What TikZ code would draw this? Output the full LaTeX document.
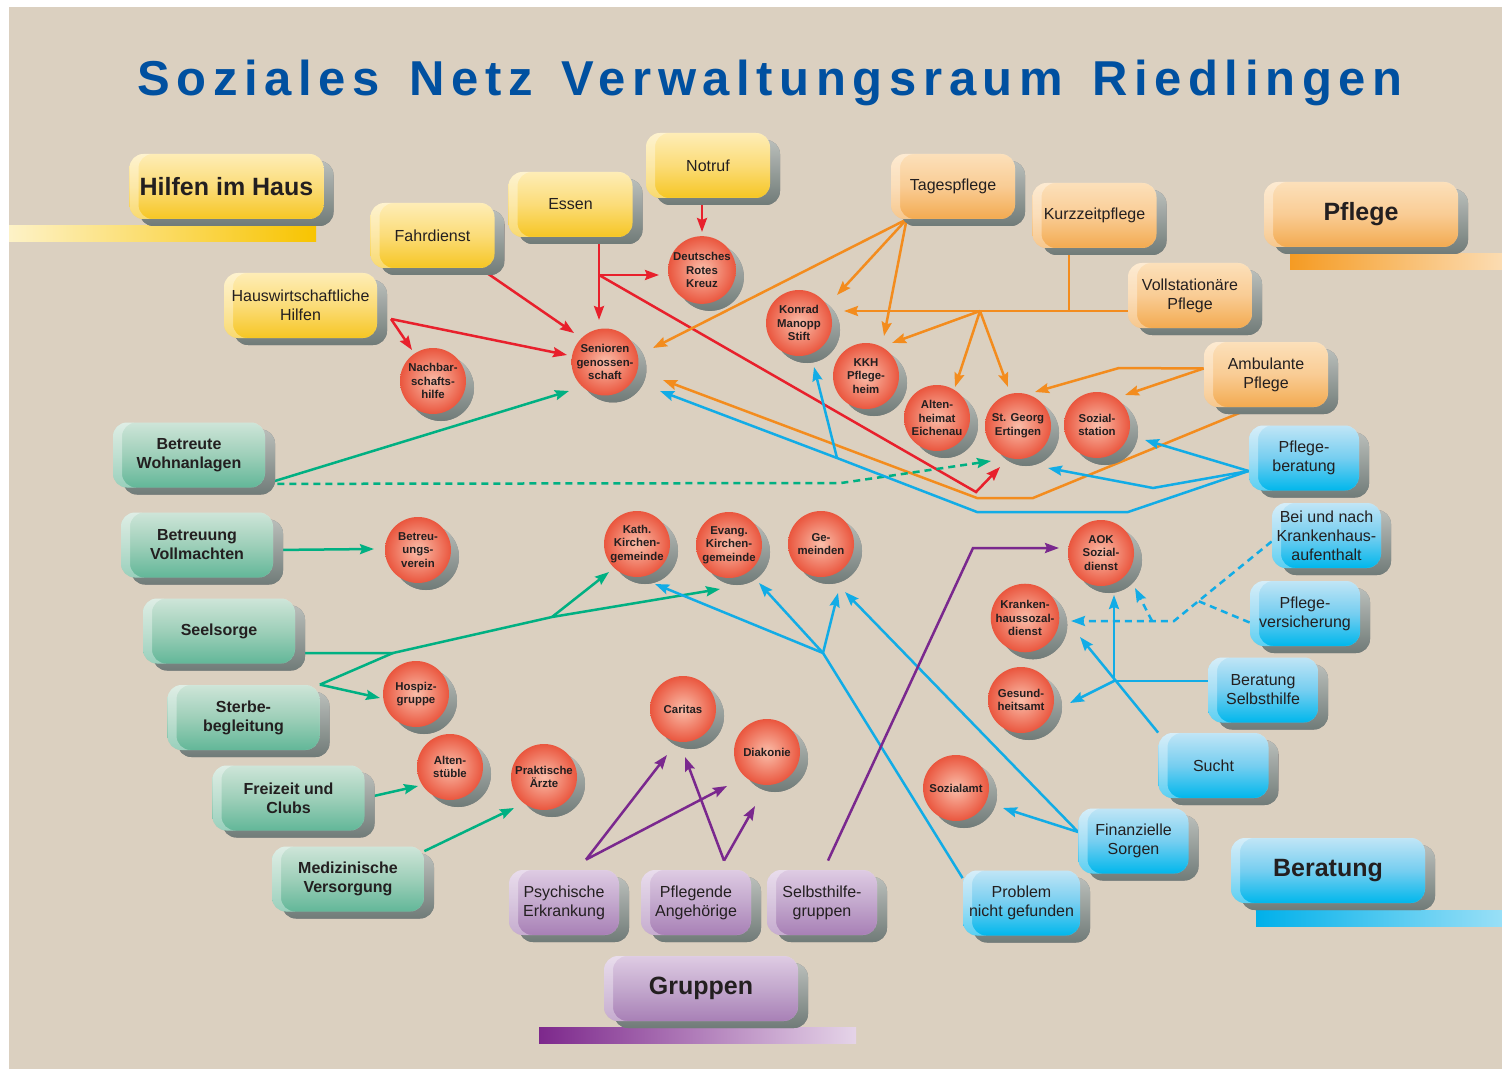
\documentclass[tikz,border=0pt]{standalone}
\usepackage{fontspec}
\setmainfont{Liberation Sans}
\newfontfamily\titlefont{Liberation Sans}[LetterSpace=13.5, WordSpace=1.45]
\usepackage{tikz}
\usetikzlibrary{
  arrows.meta,
  shadows,
  calc
}
\pgfdeclarelayer{backdrop}
\pgfdeclarelayer{links}
\pgfsetlayers{backdrop,links,main}
\definecolor{papercolor}{RGB}{219, 208, 192}
\definecolor{titlecolor}{RGB}{0, 80, 160}
\definecolor{labelcolor}{RGB}{35, 31, 32}
\definecolor{hilfetop}{RGB}{254, 237, 182}
\definecolor{hilfemid}{RGB}{251, 220, 120}
\definecolor{hilfebot}{RGB}{246, 198, 35}
\definecolor{pflegetop}{RGB}{252, 224, 186}
\definecolor{pflegemid}{RGB}{249, 204, 148}
\definecolor{pflegebot}{RGB}{243, 170, 80}
\definecolor{betreutop}{RGB}{206, 229, 216}
\definecolor{betreumid}{RGB}{158, 207, 185}
\definecolor{betreubot}{RGB}{98, 183, 152}
\definecolor{berattop}{RGB}{192, 229, 246}
\definecolor{beratmid}{RGB}{118, 206, 240}
\definecolor{beratbot}{RGB}{0, 183, 236}
\definecolor{gruppetop}{RGB}{222, 203, 227}
\definecolor{gruppemid}{RGB}{195, 168, 205}
\definecolor{gruppebot}{RGB}{168, 128, 182}
\definecolor{shadowtop}{RGB}{186, 190, 186}
\definecolor{shadowbot}{RGB}{112, 123, 120}
\definecolor{ballin}{RGB}{250, 190, 170}
\definecolor{ballout}{RGB}{234, 86, 62}
\definecolor{hilfeline}{RGB}{232, 32, 44}
\definecolor{pflegeline}{RGB}{243, 140, 30}
\definecolor{betreuline}{RGB}{0, 176, 130}
\definecolor{beratline}{RGB}{18, 172, 230}
\definecolor{gruppeline}{RGB}{122, 40, 142}
\definecolor{hilfebar}{RGB}{248, 196, 0}
\definecolor{pflegebar}{RGB}{245, 155, 35}
\definecolor{beratbar}{RGB}{0, 176, 234}
\definecolor{gruppebar}{RGB}{125, 40, 140}
\tikzset{
blocktext/.style={
  align=center,
  font=\fontsize{8}{9.5}\selectfont,
  text=labelcolor
},
block/.style={
  rectangle,
  rounded corners=7pt,
  minimum height=32.5pt,
  minimum width=62pt,
  inner sep=1pt,
  drop shadow={shadow xshift=5pt, shadow yshift=-3.5pt, opacity=1,
    top color=shadowtop, bottom color=shadowbot},
  top color=#1top,
  bottom color=#1bot,
  middle color=#1mid,
  path picture={
    \fill[white, opacity=0.35, even odd rule]
      (path picture bounding box.south west) rectangle (path picture bounding box.north east)
      ([xshift=4.5pt]path picture bounding box.south west) rectangle (path picture bounding box.north east);
  },
  blocktext
},
hilfeblock/.style={block=hilfe},
pflegeblock/.style={block=pflege},
betreublock/.style={
  block=betreu,
  minimum width=76pt,
  font=\bfseries\fontsize{8}{9.5}\selectfont
},
beratblock/.style={block=berat, minimum width=55pt},
gruppeblock/.style={block=gruppe, minimum width=55pt},
headblock/.style={
  block=#1,
  minimum width=97pt,
  font=\bfseries\fontsize{12.5}{15}\selectfont
},
ball/.style={
  circle,
  minimum size=33pt,
  inner sep=0pt,
  drop shadow={shadow xshift=4pt, shadow yshift=-3.5pt, opacity=1,
    top color=shadowtop, bottom color=shadowbot},
  inner color=ballin,
  outer color=ballout,
  align=center,
  text=labelcolor,
  font=\bfseries\fontsize{5.7}{6.8}\selectfont
},
titletext/.style={
  font=\titlefont\bfseries\fontsize{24.5}{28}\selectfont,
  text=titlecolor
},
wire/.style={line width=1.25pt},
link/.style={
  wire,
  -{Stealth[length=7pt,width=5pt,inset=1pt]}
},
dashlink/.style={dash pattern=on 3.5pt off 2.5pt},
hilfewire/.style={wire, draw=hilfeline},
hilfelink/.style={link, draw=hilfeline},
pflegewire/.style={wire, draw=pflegeline},
pflegelink/.style={link, draw=pflegeline},
betreuwire/.style={wire, draw=betreuline},
betreulink/.style={link, draw=betreuline},
beratwire/.style={wire, draw=beratline},
beratlink/.style={link, draw=beratline},
gruppelink/.style={link, draw=gruppeline}
}

\begin{document}
\begin{tikzpicture}[x=0.5pt,y=-0.5pt]
\useasboundingbox (0,0) rectangle (1502,1069);
\begin{pgfonlayer}{backdrop}
  \fill[white] (0,0) rectangle (1502,1069);
  \fill[papercolor] (9,7) rectangle (1502,1069);
  \shade[left color=hilfebar!22!white, right color=hilfebar] (9,226) rectangle (316,242);
  \shade[left color=pflegebar, right color=pflegebar!35!white] (1290,254) rectangle (1502,270);
  \shade[left color=beratbar, right color=beratbar!40!white] (1256,910) rectangle (1502,926);
  \shade[left color=gruppebar, right color=gruppebar!20!white] (539,1027) rectangle (856,1043);
\end{pgfonlayer}

\node[titletext, anchor=base] (title) at (770,96) {Soziales Netz Verwaltungsraum Riedlingen};

% Hilfen im Haus
\node[headblock=hilfe] (hilfen) at (226.5,186.5) {Hilfen im Haus};
\node[hilfeblock] (fahr) at (432.5,235.5) {Fahrdienst};
\node[hilfeblock] (essen) at (570.5,204.5) {Essen};
\node[hilfeblock] (notruf) at (708,165.5) {Notruf};
\node[hilfeblock, minimum width=76.5pt] (hausw) at (300.5,305.5) {Hauswirtschaftliche\\Hilfen};

% Pflege
\node[headblock=pflege] (pflege) at (1361,214.5) {Pflege};
\node[pflegeblock] (tages) at (953,186.5) {Tagespflege};
\node[pflegeblock] (kurz) at (1094.5,215.5) {Kurzzeitpflege};
\node[pflegeblock] (voll) at (1190,295.5) {Vollstationäre\\Pflege};
\node[pflegeblock] (ambu) at (1266,374.5) {Ambulante\\Pflege};

% Betreuung
\node[betreublock] (wohnanl) at (189,455) {Betreute\\Wohnanlagen};
\node[betreublock] (vollm) at (197,545) {Betreuung\\Vollmachten};
\node[betreublock] (seel) at (219,631) {Seelsorge};
\node[betreublock] (sterbe) at (243.5,717.5) {Sterbe-\\begleitung};
\node[betreublock] (freiz) at (288.5,798) {Freizeit und\\Clubs};
\node[betreublock] (medver) at (348,879) {Medizinische\\Versorgung};

% Beratung
\node[headblock=berat] (beratung) at (1328,870.5) {Beratung};
\node[beratblock] (pfberat) at (1304,458) {Pflege-\\beratung};
\node[beratblock, minimum width=54.5pt] (krhaus) at (1326.5,535.5) {Bei und nach\\Krankenhaus-\\aufenthalt};
\node[beratblock] (pfvers) at (1305,613.5) {Pflege-\\versicherung};
\node[beratblock] (selbsthb) at (1263,690) {Beratung\\Selbsthilfe};
\node[beratblock] (sucht) at (1213.5,765.5) {Sucht};
\node[beratblock] (finanz) at (1133.5,841) {Finanzielle\\Sorgen};
\node[beratblock, minimum width=58.5pt] (problem) at (1021.5,903) {Problem\\nicht gefunden};

% Gruppen
\node[headblock=gruppe] (gruppen) at (701,988.5) {Gruppen};
\node[gruppeblock] (psych) at (564,902.5) {Psychische\\Erkrankung};
\node[gruppeblock] (pflang) at (696,902.5) {Pflegende\\Angehörige};
\node[gruppeblock] (selbstgr) at (822,902.5) {Selbsthilfe-\\gruppen};

% Einrichtungen
\node[ball] (drk) at (702,270) {Deutsches\\Rotes\\Kreuz};
\node[ball] (senior) at (605,362) {Senioren\\genossen-\\schaft};
\node[ball] (nachbar) at (433,381) {Nachbar-\\schafts-\\hilfe};
\node[ball] (konrad) at (799,323) {Konrad\\Manopp\\Stift};
\node[ball] (kkh) at (866,376) {KKH\\Pflege-\\heim};
\node[ball] (altenh) at (937,418) {Alten-\\heimat\\Eichenau};
\node[ball] (stgeorg) at (1018,426) {St. Georg\\Ertingen};
\node[ball] (sozst) at (1097,425) {Sozial-\\station};
\node[ball] (betrver) at (418,550) {Betreu-\\ungs-\\verein};
\node[ball] (kath) at (637,544) {Kath.\\Kirchen-\\gemeinde};
\node[ball] (evang) at (729,545) {Evang.\\Kirchen-\\gemeinde};
\node[ball] (gemeind) at (821,544) {Ge-\\meinden};
\node[ball] (aok) at (1101,553) {AOK\\Sozial-\\dienst};
\node[ball] (khsd) at (1025,618) {Kranken-\\haussozal-\\dienst};
\node[ball] (gesund) at (1021,700) {Gesund-\\heitsamt};
\node[ball] (sozamt) at (956,788) {Sozialamt};
\node[ball] (hospiz) at (416,694) {Hospiz-\\gruppe};
\node[ball] (altenst) at (450,767) {Alten-\\stüble};
\node[ball] (praxis) at (544,777) {Praktische\\Ärzte};
\node[ball] (caritas) at (683,709) {Caritas};
\node[ball] (diakonie) at (767,752) {Diakonie};

\begin{pgfonlayer}{links}
  % Hilfen im Haus
  \coordinate (hw-out) at (391,319);
  \coordinate (essen-j) at (599,275);
  \coordinate (essen-e) at (976,492);
  \draw[hilfelink] (fahr.center) -- ([shift={(-31,-29)}]senior.center);
  \draw[hilfelink] (hw-out) -- ([shift={(-38,-7)}]senior.center);
  \draw[hilfelink] (hw-out) -- ([shift={(-21,-31)}]nachbar.center);
  \draw[hilfewire] (essen-j |- essen.south) -- (essen-j);
  \draw[hilfelink] (essen-j) -- ([shift={(-6,-42)}]senior.center);
  \draw[hilfelink] (essen-j) -- ([shift={(-43,5)}]drk.center);
  \draw[hilfelink] (essen-j) -- (essen-e) -- ([shift={(-18,41)}]stgeorg.center);
  \draw[hilfelink] (drk.north |- notruf.south) -- ([shift={(0,-38)}]drk.center);

  % Pflege
  \coordinate (tages-j) at ([xshift=8pt]tages.south west);
  \coordinate (kurz-j) at (1069,311);
  \coordinate (voll-j) at (980,311);
  \coordinate (ambu-j) at ([yshift=3pt]ambu.west);
  \coordinate (ambu-e) at (1119,368);
  \coordinate (ambu-s) at ([xshift=-6.5pt]ambu.south);
  \coordinate (ambu-e1) at (1033,498);
  \coordinate (ambu-e2) at (977,498);
  \draw[pflegelink] (tages-j) -- ([shift={(48,-14)}]senior.center);
  \draw[pflegelink] (tages-j) -- ([shift={(38,-28)}]konrad.center);
  \draw[pflegelink] (tages-j) -- ([shift={(18,-40)}]kkh.center);
  \draw[pflegewire] (kurz-j |- kurz.south) -- (kurz-j);
  \draw[pflegelink] (voll.west |- kurz-j) -- ([shift={(45,-12)}]konrad.center);
  \draw[pflegelink] (voll-j) -- ([shift={(26,-33)}]kkh.center);
  \draw[pflegelink] (voll-j) -- ([shift={(18,-31)}]altenh.center);
  \draw[pflegelink] (voll-j) -- ([shift={(-10,-39)}]stgeorg.center);
  \draw[pflegelink] (ambu-j) -- (ambu-e) -- ([shift={(17,-34)}]stgeorg.center);
  \draw[pflegelink] (ambu-j) -- ([shift={(28,-30)}]sozst.center);
  \draw[pflegelink] (ambu-s) -- (ambu-e1) -- (ambu-e2) -- ([shift={(58,18)}]senior.center);

  % Betreuung
  \coordinate (bw-j) at ([yshift=2pt]wohnanl.south east);
  \coordinate (bw-e) at (841,483);
  \coordinate (se-1) at (393,653);
  \coordinate (se-2) at (552,617);
  \draw[betreulink] (bw-j) -- ([shift={(-36,29)}]senior.center);
  \draw[betreulink, dashlink] (bw-j) -- (bw-e) -- ([shift={(-27,35)}]stgeorg.center);
  \draw[betreulink] (vollm.east |- betrver) -- ([shift={(-44,-1)}]betrver.center);
  \draw[betreulink] (seel.east |- se-1) -- (se-1) -- (se-2) -- ([shift={(-9,44)}]evang.center);
  \draw[betreulink] (se-2) -- ([shift={(-28,28)}]kath.center);
  \draw[betreuwire] (sterbe.north east) -- (se-1);
  \draw[betreulink] (sterbe.north east) -- ([shift={(-36,4)}]hospiz.center);
  \draw[betreulink] (freiz.east) -- ([shift={(-32,19)}]altenst.center);
  \draw[betreulink] ([yshift=-2.5pt]medver.north east) -- ([shift={(-30,31)}]praxis.center);

  % Beratung
  \coordinate (pb-j) at ([yshift=-6.5pt]pfberat.west);
  \coordinate (pb-e) at (1153,488);
  \coordinate (pb-e1) at (1128,512);
  \coordinate (pb-e2) at (977,512);
  \coordinate (pb-k) at (837,458);
  \coordinate (pr-j) at (823,653);
  \coordinate (fs-j) at ([yshift=4.5pt]finanz.west);
  \coordinate (bs-j) at (1114,681);
  \coordinate (kh-j) at ([yshift=-3pt]krhaus.west);
  \coordinate (kh-e) at (1174,621);
  \coordinate (kh-b) at (1152,621);
  \draw[beratlink] (pb-j) -- ([shift={(48,15)}]sozst.center);
  \draw[beratlink] (pb-j) -- (pb-e) -- ([shift={(30,42)}]stgeorg.center);
  \draw[beratlink] (pb-j) -- (pb-e1) -- (pb-e2) -- (pb-k) -- ([shift={(55,29)}]senior.center);
  \draw[beratlink] (pb-k) -- ([shift={(15,44)}]konrad.center);
  \draw[beratwire] ([yshift=-4pt]problem.north west) -- (pr-j);
  \draw[beratlink] (pr-j) -- ([shift={(18,40)}]kath.center);
  \draw[beratlink] (pr-j) -- ([shift={(30,38)}]evang.center);
  \draw[beratlink] (pr-j) -- ([shift={(17,49)}]gemeind.center);
  \draw[beratlink] (fs-j) -- ([shift={(47,20)}]sozamt.center);
  \draw[beratlink] (fs-j) -- ([shift={(24,48)}]gemeind.center);
  \draw[beratwire] ([yshift=4.5pt]selbsthb.west) -- (bs-j);
  \draw[beratlink] (bs-j) -- ([shift={(13,42)}]aok.center);
  \draw[beratlink] (bs-j) -- ([shift={(49,3)}]gesund.center);
  \draw[beratlink] (sucht.north west) -- ([shift={(55,19)}]khsd.center);
  \draw[beratlink, dashlink] (kh-j) -- (kh-e) -- ([shift={(46,3)}]khsd.center);
  \draw[beratlink, dashlink] (kh-b) -- ([shift={(34,35)}]aok.center);
  \draw[beratwire, dashlink] ([yshift=-4.5pt]pfvers.west) -- ($(kh-j)!0.75!(kh-e)$);

  % Gruppen
  \coordinate (ps-j) at ([xshift=11pt,yshift=5pt]psych.north);
  \coordinate (pa-j) at ([xshift=14pt,yshift=4.5pt]pflang.north);
  \coordinate (sg-e) at (973,548);
  \draw[gruppelink] (ps-j) -- ([shift={(-16,46)}]caritas.center);
  \draw[gruppelink] (ps-j) -- ([shift={(-40,34)}]diakonie.center);
  \draw[gruppelink] (pa-j) -- ([shift={(2,48)}]caritas.center);
  \draw[gruppelink] (pa-j) -- ([shift={(-12,54)}]diakonie.center);
  \draw[gruppelink] ([xshift=3pt,yshift=4.5pt]selbstgr.north) -- (sg-e) -- ([shift={(-42,-5)}]aok.center);
\end{pgfonlayer}
\end{tikzpicture}
\end{document}
